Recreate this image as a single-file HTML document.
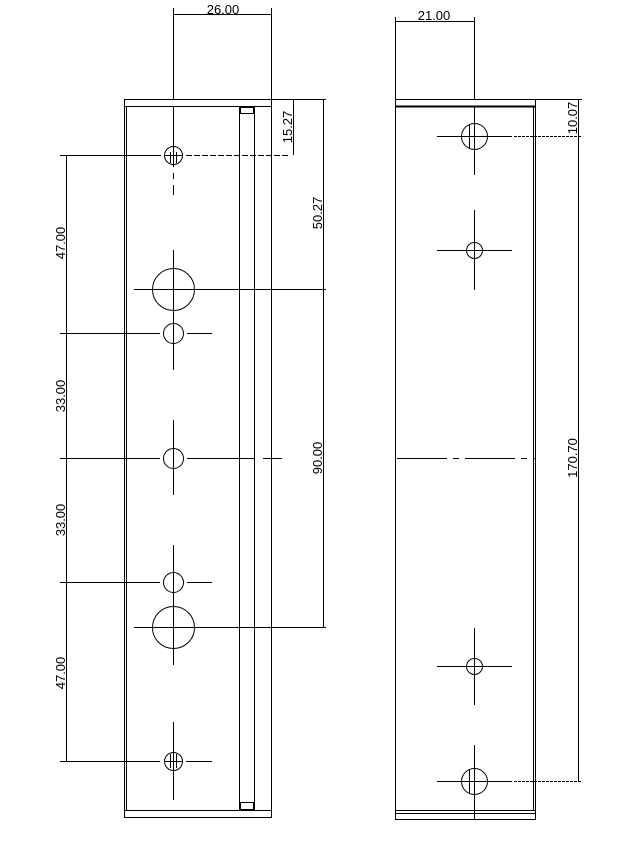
<!DOCTYPE html>
<html><head><style>
html,body{margin:0;padding:0;background:#fff;}
svg{display:block;}
text{font-family:"Liberation Sans",sans-serif;font-size:13px;fill:#000;}
</style></head><body>
<svg width="627" height="842" viewBox="0 0 627 842" xmlns="http://www.w3.org/2000/svg">
<g stroke="#000" stroke-width="1" fill="none">
<!-- LEFT VIEW -->
<rect x="124.5" y="99.5" width="147" height="718"/>
<line x1="124.5" y1="106.5" x2="271.5" y2="106.5"/>
<line x1="126.5" y1="107" x2="126.5" y2="810"/>
<line x1="124.5" y1="810.5" x2="271.5" y2="810.5"/>
<line x1="239.5" y1="107" x2="239.5" y2="810"/>
<line x1="254.5" y1="107" x2="254.5" y2="810"/>
<rect x="240.5" y="107.5" width="13" height="6"/>
<rect x="240.5" y="802.5" width="13" height="7"/>
<!-- holes left -->
<circle cx="173.5" cy="155.5" r="9"/>
<line x1="165" y1="155.5" x2="182" y2="155.5"/><line x1="170.5" y1="152" x2="170.5" y2="163"/><line x1="176.5" y1="152" x2="176.5" y2="163"/>
<circle cx="173.5" cy="289.5" r="21"/>
<circle cx="173.5" cy="333.5" r="10"/>
<circle cx="173.5" cy="458.5" r="10"/>
<circle cx="173.5" cy="582.5" r="10"/>
<circle cx="173.5" cy="627.5" r="21"/>
<circle cx="173.5" cy="761.5" r="9"/>
<line x1="165" y1="761.5" x2="182" y2="761.5"/><line x1="170.5" y1="754" x2="170.5" y2="768"/><line x1="176.5" y1="754" x2="176.5" y2="768"/>
<!-- centerlines left -->
<line x1="173.5" y1="8" x2="173.5" y2="99"/>
<line x1="173.5" y1="107" x2="173.5" y2="195" stroke-dasharray="60,6,6,6"/>
<line x1="173.5" y1="250" x2="173.5" y2="370"/>
<line x1="173.5" y1="420" x2="173.5" y2="495"/>
<line x1="173.5" y1="545" x2="173.5" y2="665"/>
<line x1="173.5" y1="722" x2="173.5" y2="800"/>
<line x1="60" y1="155.5" x2="161" y2="155.5"/><line x1="186" y1="155.5" x2="290" y2="155.5" stroke-dasharray="6,2"/>
<line x1="134" y1="289.5" x2="326" y2="289.5"/>
<line x1="60" y1="333.5" x2="160" y2="333.5"/><line x1="187" y1="333.5" x2="212" y2="333.5"/>
<line x1="60" y1="458.5" x2="160" y2="458.5"/><line x1="187" y1="458.5" x2="254" y2="458.5"/><line x1="263" y1="458.5" x2="282" y2="458.5"/>
<line x1="60" y1="582.5" x2="160" y2="582.5"/><line x1="187" y1="582.5" x2="212" y2="582.5"/>
<line x1="134" y1="627.5" x2="326" y2="627.5"/>
<line x1="60" y1="761.5" x2="160" y2="761.5"/><line x1="186" y1="761.5" x2="212" y2="761.5"/>
<!-- dims left -->
<line x1="66.5" y1="155" x2="66.5" y2="761"/>
<line x1="174" y1="14.5" x2="271" y2="14.5"/>
<line x1="271.5" y1="8" x2="271.5" y2="99"/>
<line x1="272" y1="99.5" x2="326" y2="99.5"/>
<line x1="293.5" y1="99" x2="293.5" y2="155"/>
<line x1="323.5" y1="99" x2="323.5" y2="627"/>
<!-- RIGHT VIEW -->
<rect x="395.5" y="99.5" width="140" height="720"/>
<line x1="395.5" y1="106.5" x2="535.5" y2="106.5" stroke-width="2"/>
<line x1="533.5" y1="107" x2="533.5" y2="810"/>
<line x1="395.5" y1="810.5" x2="535.5" y2="810.5"/>
<line x1="395.5" y1="813.5" x2="535.5" y2="813.5"/>
<circle cx="474.5" cy="136.5" r="13"/>
<line x1="469.5" y1="124" x2="469.5" y2="149"/>
<circle cx="474.5" cy="250.5" r="8"/>
<circle cx="474.5" cy="666.5" r="8"/>
<circle cx="474.5" cy="781.5" r="13"/>
<line x1="469.5" y1="769" x2="469.5" y2="794"/>
<line x1="474.5" y1="17" x2="474.5" y2="99"/>
<line x1="474.5" y1="107" x2="474.5" y2="175"/>
<line x1="474.5" y1="210" x2="474.5" y2="290"/>
<line x1="474.5" y1="628" x2="474.5" y2="705"/>
<line x1="474.5" y1="745" x2="474.5" y2="820"/>
<line x1="437" y1="136.5" x2="512" y2="136.5"/><line x1="514" y1="136.5" x2="582" y2="136.5" stroke-dasharray="3,1"/>
<line x1="437" y1="250.5" x2="512" y2="250.5"/>
<line x1="437" y1="666.5" x2="512" y2="666.5"/>
<line x1="437" y1="781.5" x2="512" y2="781.5"/><line x1="514" y1="781.5" x2="582" y2="781.5" stroke-dasharray="3,1"/>
<line x1="397" y1="458.5" x2="535" y2="458.5" stroke-dasharray="50,6,6,6"/>
<line x1="395.5" y1="17" x2="395.5" y2="99"/>
<line x1="395" y1="21.5" x2="474" y2="21.5"/>
<line x1="536" y1="99.5" x2="582" y2="99.5"/>
<line x1="578.5" y1="99" x2="578.5" y2="781"/>
</g>
<text x="223" y="14" text-anchor="middle">26.00</text>
<text x="434" y="20" text-anchor="middle">21.00</text>
<g>
<text transform="translate(65,243) rotate(-90)" text-anchor="middle">47.00</text>
<text transform="translate(65,396) rotate(-90)" text-anchor="middle">33.00</text>
<text transform="translate(65,520) rotate(-90)" text-anchor="middle">33.00</text>
<text transform="translate(65,673) rotate(-90)" text-anchor="middle">47.00</text>
<text transform="translate(292,127) rotate(-90)" text-anchor="middle">15.27</text>
<text transform="translate(322,213) rotate(-90)" text-anchor="middle">50.27</text>
<text transform="translate(322,458) rotate(-90)" text-anchor="middle">90.00</text>
<text transform="translate(577,118) rotate(-90)" text-anchor="middle">10.07</text>
<text transform="translate(577,458) rotate(-90)" text-anchor="middle">170.70</text>
</g>
</svg>
</body></html>
